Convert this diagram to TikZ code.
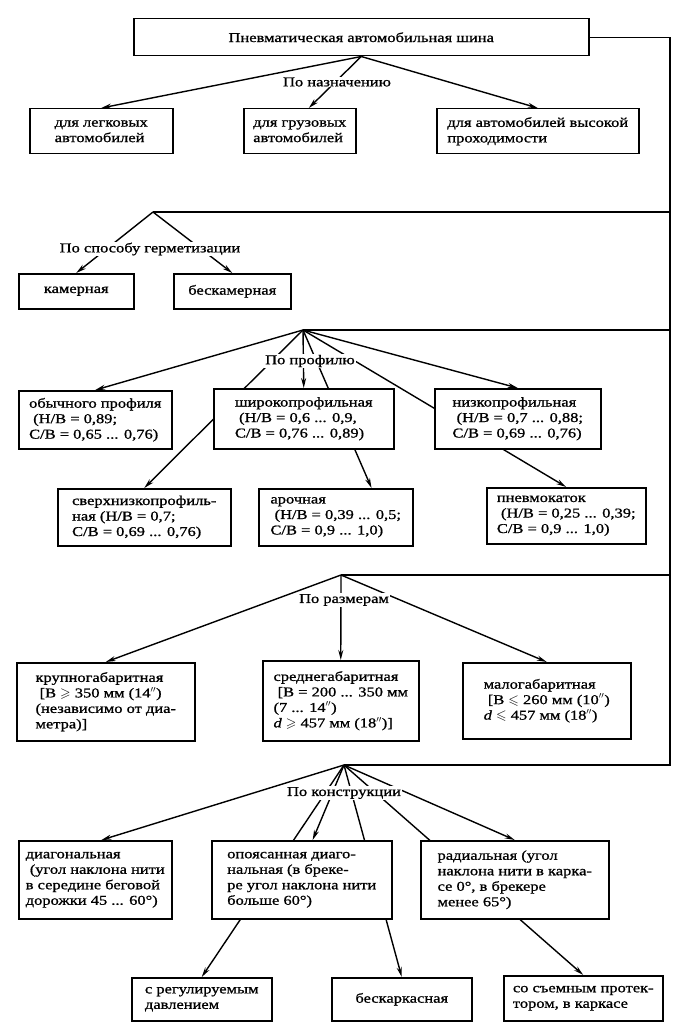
\documentclass[tikz,border=0pt]{standalone}
\usepackage{fontspec}
\usepackage{amssymb}
\setmainfont{Liberation Serif}[FakeStretch=1.22, FakeBold=1]
\usetikzlibrary{arrows.meta,calc,backgrounds}

\begin{document}
\begin{tikzpicture}[x=1pt, y=-1pt,
box/.style={rectangle, draw=black, fill=white, line width=1.5pt, anchor=north west, align=left, inner sep=2pt, font=\fontsize{13.5}{15.5}\selectfont},
branch/.style={fill=white, inner sep=1pt, font=\fontsize{13.5}{15.5}\selectfont},
link/.style={line width=1.4pt},
>={Stealth[length=10pt, width=5pt]},
]
\useasboundingbox (0,0) rectangle (691,1032);

%Nodes
\node[box, minimum width=455, minimum height=37, align=center] (title) at (133,18) {Пневматическая автомобильная шина};

\node[box, minimum width=143, minimum height=45] (car)    at (29,108)  {для легковых\\автомобилей};
\node[box, minimum width=112, minimum height=45] (truck)  at (243,108) {для грузовых\\автомобилей};
\node[box, minimum width=202, minimum height=45] (offrd)  at (436,108) {для автомобилей высокой\\проходимости};

\node[box, minimum width=115, minimum height=35] (tube)   at (18,273)  {камерная};
\node[box, minimum width=117, minimum height=35] (tless)  at (173,273) {бескамерная};

\node[box, minimum width=153, minimum height=58] (usual)  at (18,390)  {обычного профиля\\\ (Н/В = 0,89;\\С/В = 0,65 ... 0,76)};
\node[box, minimum width=180, minimum height=60] (wide)   at (213,388) {широкопрофильная\\\ (Н/В = 0,6 ... 0,9,\\С/В = 0,76 ... 0,89)};
\node[box, minimum width=166, minimum height=60] (low)    at (434,388) {низкопрофильная\\\ (Н/В = 0,7 ... 0,88;\\С/В = 0,69 ... 0,76)};
\node[box, minimum width=173, minimum height=57] (ultra)  at (57,488)  {сверхнизкопрофиль-\\ная (Н/В = 0,7;\\С/В = 0,69 ... 0,76)};
\node[box, minimum width=154, minimum height=57] (arch)   at (258,488) {арочная\\\ (Н/В = 0,39 ... 0,5;\\С/В = 0,9 ... 1,0)};
\node[box, minimum width=159, minimum height=56] (roll)   at (486,487) {пневмокаток\\\ (Н/В = 0,25 ... 0,39;\\С/В = 0,9 ... 1,0)};

\node[box, minimum width=178, minimum height=78] (large)  at (16,662)  {крупногабаритная\\\ [В $\geqslant$ 350 мм (14$''$)\\(независимо от диа-\\метра)]};
\node[box, minimum width=156, minimum height=80] (medium) at (262,660) {среднегабаритная\\\ [В = 200 ... 350 мм\\(7 ... 14$''$)\\\textit{d} $\geqslant$ 457 мм (18$''$)]};
\node[box, minimum width=168, minimum height=76] (small)  at (462,662) {малогабаритная\\\ [В $\leqslant$ 260 мм (10$''$)\\\textit{d} $\leqslant$ 457 мм (18$''$)};

\node[box, minimum width=153, minimum height=78] (diag)   at (18,840)  {диагональная\\\ (угол наклона нити\\в середине беговой\\дорожки 45 ... 60°)};
\node[box, minimum width=180, minimum height=78] (belted) at (211,840) {опоясанная диаго-\\нальная (в бреке-\\ре угол наклона нити\\больше 60°)};
\node[box, minimum width=188, minimum height=78] (radial) at (420,840) {радиальная (угол\\наклона нити в карка-\\се 0°, в брекере\\менее 65°)};
\node[box, minimum width=140, minimum height=43] (press)  at (131,977) {с регулируемым\\давлением};
\node[box, minimum width=140, minimum height=43] (nocarc) at (331,977) {бескаркасная};
\node[box, minimum width=159, minimum height=45] (tread)  at (503,975) {со съемным протек-\\тором, в каркасе};

\node[branch] (bypurp)  at (337,82)  {По назначению};
\node[branch] (byseal)  at (150,249) {По способу герметизации};
\node[branch] (byprof)  at (310,361) {По профилю};
\node[branch] (bysize)  at (344,600) {По размерам};
\node[branch] (bydesn)  at (344,793) {По конструкции};

\coordinate (seal)   at (153,212);
\coordinate (prof)   at (303,330);
\coordinate (size)   at (341,575);
\coordinate (desn)   at (344,765);
\coordinate (rail)   at (670,765);

%Lines
\begin{pgfonlayer}{background}
\draw[link] (title.east) -| (rail) -- (desn);
\draw[link] (seal) -- (seal -| rail);
\draw[link] (prof) -- (prof -| rail);
\draw[link] (size) -- (size -| rail);

\draw[link,->] (title.south) -- (car.north);
\draw[link,->] (title.south) -- ($(truck.north west)!0.58!(truck.north east)$);
\draw[link,->] (title.south) -- (offrd.north);

\draw[link,->] (seal) -- (tube.north);
\draw[link,->] (seal) -- (tless.north);

\draw[link,->] (prof) -- (usual.north);
\draw[link,->] (prof) -- (wide.north);
\draw[link,->] (prof) -- (low.north);
\draw[link,->] (prof) -- (ultra.north);
\draw[link,->] (prof) -- ($(arch.north west)!0.73!(arch.north east)$);
\draw[link,->] (prof) -- (roll.north);

\draw[link,->] (size) -- (large.north);
\draw[link,->] (size) -- (medium.north);
\draw[link,->] (size) -- (small.north);

\draw[link,->] (desn) -- ($(diag.north west)!0.54!(diag.north east)$);
\draw[link,->] (desn) -- ($(belted.north west)!0.56!(belted.north east)$);
\draw[link,->] (desn) -- (radial.north);
\draw[link,->] (desn) -- (press.north);
\draw[link,->] (desn) -- (nocarc.north);
\draw[link,->] (desn) -- (tread.north);
\end{pgfonlayer}
\end{tikzpicture}
\end{document}
